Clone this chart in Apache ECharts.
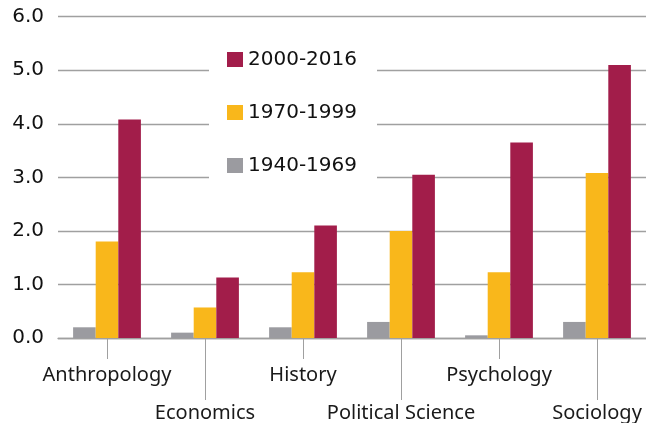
<!DOCTYPE html>
<html>
<head>
<meta charset="utf-8">
<script src="https://cdn.jsdelivr.net/npm/echarts@6/dist/echarts.min.js"></script>
<style>html,body{margin:0;padding:0;background:#fff;}#c{width:646px;height:423px;}</style>
</head>
<body>
<div id="c"></div>
<script>
var categories = ['Anthropology', 'Economics', 'History', 'Political Science', 'Psychology', 'Sociology'];
var seriesNames = ['1940-1969', '1970-1999', '2000-2016'];
var s1940 = [0.2, 0.1, 0.2, 0.3, 0.05, 0.3];
var s1970 = [1.8, 0.57, 1.23, 2.0, 1.23, 3.08];
var s2000 = [4.08, 1.13, 2.1, 3.05, 3.65, 5.1];
var yTicks = [0, 1, 2, 3, 4, 5, 6];

var colors = ['#9b9ba0', '#f9b71b', '#a21d4a'];
var chart = echarts.init(document.getElementById('c'), null, {renderer: 'canvas'});
var numFont = 'DejaVu Sans';
var txtFont = 'Noto Sans';

function mkSeries(name, data, color) {
  return {
    name: name, type: 'bar', data: data, xAxisIndex: 0, yAxisIndex: 0,
    barWidth: 22.6, barGap: '0%',
    itemStyle: {color: color}, emphasis: {disabled: true}
  };
}

chart.setOption({
  animation: false,
  backgroundColor: '#ffffff',
  grid: {left: 58, right: -4, top: 16.7, bottom: 84.7, containLabel: false},
  legend: {
    data: [seriesNames[2], seriesNames[1], seriesNames[0]],
    orient: 'vertical', left: 209, top: 29.5,
    padding: [20, 20, 14, 18],
    backgroundColor: '#ffffff',
    itemWidth: 16, itemHeight: 15, itemGap: 33,
    icon: 'rect',
    textStyle: {fontFamily: numFont, fontSize: 20, color: '#111', lineHeight: 20},
    selectedMode: false
  },
  xAxis: [{
    type: 'category', data: categories, position: 'bottom',
    axisLine: {show: true, lineStyle: {color: '#a0a0a0', width: 1.3}},
    axisTick: {show: true, alignWithLabel: true, length: 21, lineStyle: {color: '#a0a0a0', width: 1},
      interval: function (i) { return i % 2 === 0; }},
    axisLabel: {interval: function (i) { return i % 2 === 0; }, margin: 27,
      fontFamily: txtFont, fontSize: 20, color: '#1a1a1a'}
  }, {
    type: 'category', data: categories, position: 'bottom', gridIndex: 0,
    axisLine: {show: false},
    axisTick: {show: true, alignWithLabel: true, length: 62, lineStyle: {color: '#a0a0a0', width: 1},
      interval: function (i) { return i % 2 === 1; }},
    axisLabel: {interval: function (i) { return i % 2 === 1; }, margin: 65,
      fontFamily: txtFont, fontSize: 20, color: '#1a1a1a'}
  }],
  yAxis: {
    type: 'value', min: yTicks[0], max: yTicks[yTicks.length - 1], interval: 1,
    axisLine: {show: false}, axisTick: {show: false},
    splitLine: {show: true, lineStyle: {color: '#a0a0a0', width: 1.3}},
    axisLabel: {margin: 14, fontFamily: numFont, fontSize: 20, color: '#111',
      padding: [7, 0, 0, 0],
      formatter: function (v) { return v.toFixed(1); }}
  },
  series: [
    mkSeries(seriesNames[0], s1940, colors[0]),
    mkSeries(seriesNames[1], s1970, colors[1]),
    mkSeries(seriesNames[2], s2000, colors[2])
  ]
});
</script>
</body>
</html>
